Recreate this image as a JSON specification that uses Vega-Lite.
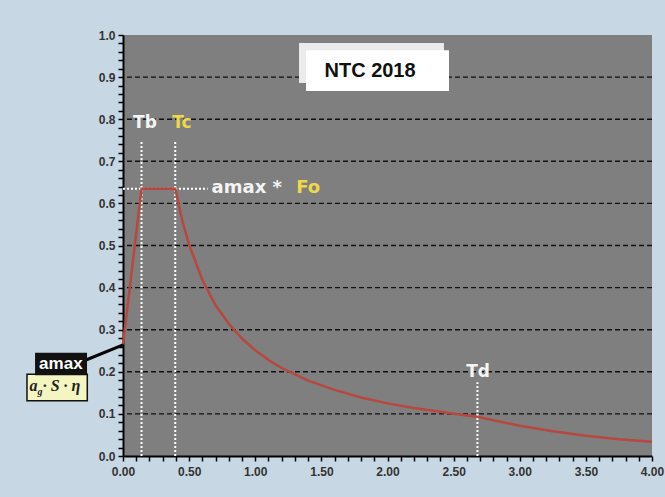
{
  "$schema": "https://vega.github.io/schema/vega-lite/v6.json",
  "width": 529,
  "height": 421,
  "autosize": "none",
  "padding": {"left": 123, "top": 35, "right": 13, "bottom": 41},
  "background": "#c7d7e4",
  "config": {
    "view": {"stroke": null, "fill": "#7f7f7f"},
    "axis": {"labelFont": "Liberation Sans", "labelFontWeight": "bold", "labelFontSize": 12, "labelColor": "#333333", "domainColor": "#000000", "domainWidth": 2, "tickColor": "#000000", "tickWidth": 1.5, "grid": false, "tickSize": 5, "labelOverlap": false, "labelFlush": false}
  },
  "datasets": {
    "curve": [
      {"T": 0, "Se": 0.265}, {"T": 0.035, "Se": 0.357}, {"T": 0.07, "Se": 0.45}, {"T": 0.105, "Se": 0.542}, {"T": 0.14, "Se": 0.635},
      {"T": 0.395, "Se": 0.635}, {"T": 0.45, "Se": 0.557}, {"T": 0.5, "Se": 0.502}, {"T": 0.6, "Se": 0.418}, {"T": 0.7, "Se": 0.358},
      {"T": 0.8, "Se": 0.314}, {"T": 0.9, "Se": 0.279}, {"T": 1.0, "Se": 0.251}, {"T": 1.1, "Se": 0.228}, {"T": 1.2, "Se": 0.209},
      {"T": 1.4, "Se": 0.179}, {"T": 1.6, "Se": 0.157}, {"T": 1.8, "Se": 0.139}, {"T": 2.0, "Se": 0.125}, {"T": 2.2, "Se": 0.114},
      {"T": 2.4, "Se": 0.105}, {"T": 2.6, "Se": 0.096}, {"T": 2.68, "Se": 0.093}, {"T": 2.8, "Se": 0.085}, {"T": 3.0, "Se": 0.072},
      {"T": 3.25, "Se": 0.059}, {"T": 3.5, "Se": 0.048}, {"T": 3.75, "Se": 0.040}, {"T": 4.0, "Se": 0.034}
    ],
    "grid": [{"y": 0.1}, {"y": 0.2}, {"y": 0.3}, {"y": 0.4}, {"y": 0.5}, {"y": 0.6}, {"y": 0.7}, {"y": 0.8}, {"y": 0.9}],
    "guides": [
      {"name": "Tb", "x1": 0.14, "x2": 0.14, "y1": 0, "y2": 0.75},
      {"name": "Tc", "x1": 0.395, "x2": 0.395, "y1": 0, "y2": 0.75},
      {"name": "Td", "x1": 2.68, "x2": 2.68, "y1": 0, "y2": 0.175},
      {"name": "plateau", "x1": 0, "x2": 0.64, "y1": 0.635, "y2": 0.635}
    ],
    "periodlabels": [
      {"text": "Tb", "x": 0.166, "y": 0.79, "group": "white"},
      {"text": "Tc", "x": 0.446, "y": 0.79, "group": "yellow"},
      {"text": "Td", "x": 2.685, "y": 0.2, "group": "white"}
    ],
    "factorlabels": [
      {"text": "amax *", "x": 0.67, "y": 0.637, "group": "white"},
      {"text": "Fo", "x": 1.31, "y": 0.637, "group": "yellow"}
    ],
    "shadowbox": [{"x1": 1.331, "x2": 2.427, "y1": 0.981, "y2": 0.886}],
    "titlebox": [{"x1": 1.384, "x2": 2.465, "y1": 0.964, "y2": 0.867, "text": "NTC 2018", "xc": 1.868, "yc": 0.914}],
    "connector": [{"x1": -0.28, "y1": 0.228, "x2": 0, "y2": 0.264}],
    "amaxbox": [{"x1": -0.665, "x2": -0.272, "y1": 0.245, "y2": 0.192, "text": "amax", "xc": -0.47, "yc": 0.2185}],
    "formulabox": [{"x1": -0.726, "x2": -0.27, "y1": 0.194, "y2": 0.131}],
    "formulamain": [{"text": "a", "x": -0.677, "y": 0.167}],
    "formulasub": [{"text": "g", "x": -0.628, "y": 0.151}],
    "formularest": [{"text": "· S · η", "x": -0.607, "y": 0.167}]
  },
  "layer": [
    {
      "data": {"name": "grid"},
      "mark": {"type": "rule", "color": "#111111", "strokeWidth": 1.4, "strokeDash": [5, 3]},
      "encoding": {"y": {"field": "y", "type": "quantitative", "scale": {"domain": [0, 1], "nice": false}, "axis": {"title": null, "tickCount": 50, "labelPadding": 3, "labelExpr": "abs(datum.value*10 - round(datum.value*10)) < 0.001 ? format(datum.value, '.1f') : ''"}}}
    },
    {
      "data": {"name": "shadowbox"},
      "mark": {"type": "rect", "fill": "#ebebeb"},
      "encoding": {
        "x": {"field": "x1", "type": "quantitative", "scale": {"domain": [0, 4], "nice": false, "zero": false}, "axis": {"title": null, "tickCount": 40, "labelPadding": 5, "labelExpr": "abs(datum.value*2 - round(datum.value*2)) < 0.001 ? format(datum.value, '.2f') : ''"}},
        "x2": {"field": "x2"},
        "y": {"field": "y1", "type": "quantitative", "axis": {"title": null, "tickCount": 50, "labelPadding": 3, "labelExpr": "abs(datum.value*10 - round(datum.value*10)) < 0.001 ? format(datum.value, '.1f') : ''"}},
        "y2": {"field": "y2"}
      }
    },
    {
      "data": {"name": "titlebox"},
      "mark": {"type": "rect", "fill": "#ffffff"},
      "encoding": {
        "x": {"field": "x1", "type": "quantitative", "axis": {"title": null, "tickCount": 40, "labelPadding": 5, "labelExpr": "abs(datum.value*2 - round(datum.value*2)) < 0.001 ? format(datum.value, '.2f') : ''"}},
        "x2": {"field": "x2"},
        "y": {"field": "y1", "type": "quantitative", "axis": {"title": null, "tickCount": 50, "labelPadding": 3, "labelExpr": "abs(datum.value*10 - round(datum.value*10)) < 0.001 ? format(datum.value, '.1f') : ''"}},
        "y2": {"field": "y2"}
      }
    },
    {
      "data": {"name": "titlebox"},
      "mark": {"type": "text", "font": "Liberation Sans", "fontWeight": "bold", "fontSize": 20, "color": "#111111", "align": "center", "baseline": "middle"},
      "encoding": {
        "x": {"field": "xc", "type": "quantitative", "axis": {"title": null, "tickCount": 40, "labelPadding": 5, "labelExpr": "abs(datum.value*2 - round(datum.value*2)) < 0.001 ? format(datum.value, '.2f') : ''"}},
        "y": {"field": "yc", "type": "quantitative", "axis": {"title": null, "tickCount": 50, "labelPadding": 3, "labelExpr": "abs(datum.value*10 - round(datum.value*10)) < 0.001 ? format(datum.value, '.1f') : ''"}},
        "text": {"field": "text"}
      }
    },
    {
      "data": {"name": "guides"},
      "mark": {"type": "rule", "color": "#ffffff", "strokeWidth": 2, "strokeDash": [2, 2]},
      "encoding": {
        "x": {"field": "x1", "type": "quantitative", "axis": {"title": null, "tickCount": 40, "labelPadding": 5, "labelExpr": "abs(datum.value*2 - round(datum.value*2)) < 0.001 ? format(datum.value, '.2f') : ''"}},
        "x2": {"field": "x2"},
        "y": {"field": "y1", "type": "quantitative", "axis": {"title": null, "tickCount": 50, "labelPadding": 3, "labelExpr": "abs(datum.value*10 - round(datum.value*10)) < 0.001 ? format(datum.value, '.1f') : ''"}},
        "y2": {"field": "y2"}
      }
    },
    {
      "data": {"name": "curve"},
      "mark": {"type": "line", "color": "#b8473f", "strokeWidth": 2.5},
      "encoding": {
        "x": {"field": "T", "type": "quantitative", "axis": {"title": null, "tickCount": 40, "labelPadding": 5, "labelExpr": "abs(datum.value*2 - round(datum.value*2)) < 0.001 ? format(datum.value, '.2f') : ''"}},
        "y": {"field": "Se", "type": "quantitative", "axis": {"title": null, "tickCount": 50, "labelPadding": 3, "labelExpr": "abs(datum.value*10 - round(datum.value*10)) < 0.001 ? format(datum.value, '.1f') : ''"}}
      }
    },
    {
      "data": {"name": "periodlabels"},
      "mark": {"type": "text", "font": "DejaVu Sans", "fontWeight": "bold", "fontSize": 17, "baseline": "middle", "align": "center"},
      "encoding": {
        "x": {"field": "x", "type": "quantitative", "axis": {"title": null, "tickCount": 40, "labelPadding": 5, "labelExpr": "abs(datum.value*2 - round(datum.value*2)) < 0.001 ? format(datum.value, '.2f') : ''"}},
        "y": {"field": "y", "type": "quantitative", "axis": {"title": null, "tickCount": 50, "labelPadding": 3, "labelExpr": "abs(datum.value*10 - round(datum.value*10)) < 0.001 ? format(datum.value, '.1f') : ''"}},
        "text": {"field": "text"},
        "color": {"field": "group", "type": "nominal", "scale": {"domain": ["white", "yellow"], "range": ["#f4f4f4", "#eed84a"]}, "legend": null}
      }
    },
    {
      "data": {"name": "factorlabels"},
      "mark": {"type": "text", "font": "DejaVu Sans", "fontWeight": "bold", "fontSize": 18, "baseline": "middle", "align": "left"},
      "encoding": {
        "x": {"field": "x", "type": "quantitative", "axis": {"title": null, "tickCount": 40, "labelPadding": 5, "labelExpr": "abs(datum.value*2 - round(datum.value*2)) < 0.001 ? format(datum.value, '.2f') : ''"}},
        "y": {"field": "y", "type": "quantitative", "axis": {"title": null, "tickCount": 50, "labelPadding": 3, "labelExpr": "abs(datum.value*10 - round(datum.value*10)) < 0.001 ? format(datum.value, '.1f') : ''"}},
        "text": {"field": "text"},
        "color": {"field": "group", "type": "nominal", "scale": {"domain": ["white", "yellow"], "range": ["#f4f4f4", "#eed84a"]}, "legend": null}
      }
    },
    {
      "data": {"name": "connector"},
      "mark": {"type": "rule", "color": "#000000", "strokeWidth": 3},
      "encoding": {
        "x": {"field": "x1", "type": "quantitative", "axis": {"title": null, "tickCount": 40, "labelPadding": 5, "labelExpr": "abs(datum.value*2 - round(datum.value*2)) < 0.001 ? format(datum.value, '.2f') : ''"}},
        "x2": {"field": "x2"},
        "y": {"field": "y1", "type": "quantitative", "axis": {"title": null, "tickCount": 50, "labelPadding": 3, "labelExpr": "abs(datum.value*10 - round(datum.value*10)) < 0.001 ? format(datum.value, '.1f') : ''"}},
        "y2": {"field": "y2"}
      }
    },
    {
      "data": {"name": "formulabox"},
      "mark": {"type": "rect", "fill": "#f5f5c2", "stroke": "#111111", "strokeWidth": 1.5},
      "encoding": {
        "x": {"field": "x1", "type": "quantitative", "axis": {"title": null, "tickCount": 40, "labelPadding": 5, "labelExpr": "abs(datum.value*2 - round(datum.value*2)) < 0.001 ? format(datum.value, '.2f') : ''"}},
        "x2": {"field": "x2"},
        "y": {"field": "y1", "type": "quantitative", "axis": {"title": null, "tickCount": 50, "labelPadding": 3, "labelExpr": "abs(datum.value*10 - round(datum.value*10)) < 0.001 ? format(datum.value, '.1f') : ''"}},
        "y2": {"field": "y2"}
      }
    },
    {
      "data": {"name": "amaxbox"},
      "mark": {"type": "rect", "fill": "#111111"},
      "encoding": {
        "x": {"field": "x1", "type": "quantitative", "axis": {"title": null, "tickCount": 40, "labelPadding": 5, "labelExpr": "abs(datum.value*2 - round(datum.value*2)) < 0.001 ? format(datum.value, '.2f') : ''"}},
        "x2": {"field": "x2"},
        "y": {"field": "y1", "type": "quantitative", "axis": {"title": null, "tickCount": 50, "labelPadding": 3, "labelExpr": "abs(datum.value*10 - round(datum.value*10)) < 0.001 ? format(datum.value, '.1f') : ''"}},
        "y2": {"field": "y2"}
      }
    },
    {
      "data": {"name": "amaxbox"},
      "mark": {"type": "text", "font": "Liberation Sans", "fontWeight": "bold", "fontSize": 17, "color": "#ffffff", "align": "center", "baseline": "middle"},
      "encoding": {
        "x": {"field": "xc", "type": "quantitative", "axis": {"title": null, "tickCount": 40, "labelPadding": 5, "labelExpr": "abs(datum.value*2 - round(datum.value*2)) < 0.001 ? format(datum.value, '.2f') : ''"}},
        "y": {"field": "yc", "type": "quantitative", "axis": {"title": null, "tickCount": 50, "labelPadding": 3, "labelExpr": "abs(datum.value*10 - round(datum.value*10)) < 0.001 ? format(datum.value, '.1f') : ''"}},
        "text": {"field": "text"}
      }
    },
    {
      "data": {"name": "formulamain"},
      "mark": {"type": "text", "font": "Liberation Serif", "fontStyle": "italic", "fontWeight": "bold", "fontSize": 16, "color": "#222222", "baseline": "middle", "align": "center"},
      "encoding": {
        "x": {"field": "x", "type": "quantitative", "axis": {"title": null, "tickCount": 40, "labelPadding": 5, "labelExpr": "abs(datum.value*2 - round(datum.value*2)) < 0.001 ? format(datum.value, '.2f') : ''"}},
        "y": {"field": "y", "type": "quantitative", "axis": {"title": null, "tickCount": 50, "labelPadding": 3, "labelExpr": "abs(datum.value*10 - round(datum.value*10)) < 0.001 ? format(datum.value, '.1f') : ''"}},
        "text": {"field": "text"}
      }
    },
    {
      "data": {"name": "formulasub"},
      "mark": {"type": "text", "font": "Liberation Serif", "fontStyle": "italic", "fontWeight": "bold", "fontSize": 10, "color": "#222222", "baseline": "middle", "align": "center"},
      "encoding": {
        "x": {"field": "x", "type": "quantitative", "axis": {"title": null, "tickCount": 40, "labelPadding": 5, "labelExpr": "abs(datum.value*2 - round(datum.value*2)) < 0.001 ? format(datum.value, '.2f') : ''"}},
        "y": {"field": "y", "type": "quantitative", "axis": {"title": null, "tickCount": 50, "labelPadding": 3, "labelExpr": "abs(datum.value*10 - round(datum.value*10)) < 0.001 ? format(datum.value, '.1f') : ''"}},
        "text": {"field": "text"}
      }
    },
    {
      "data": {"name": "formularest"},
      "mark": {"type": "text", "font": "Liberation Serif", "fontStyle": "italic", "fontWeight": "bold", "fontSize": 16, "color": "#222222", "baseline": "middle", "align": "left"},
      "encoding": {
        "x": {"field": "x", "type": "quantitative", "axis": {"title": null, "tickCount": 40, "labelPadding": 5, "labelExpr": "abs(datum.value*2 - round(datum.value*2)) < 0.001 ? format(datum.value, '.2f') : ''"}},
        "y": {"field": "y", "type": "quantitative", "axis": {"title": null, "tickCount": 50, "labelPadding": 3, "labelExpr": "abs(datum.value*10 - round(datum.value*10)) < 0.001 ? format(datum.value, '.1f') : ''"}},
        "text": {"field": "text"}
      }
    }
  ]
}
